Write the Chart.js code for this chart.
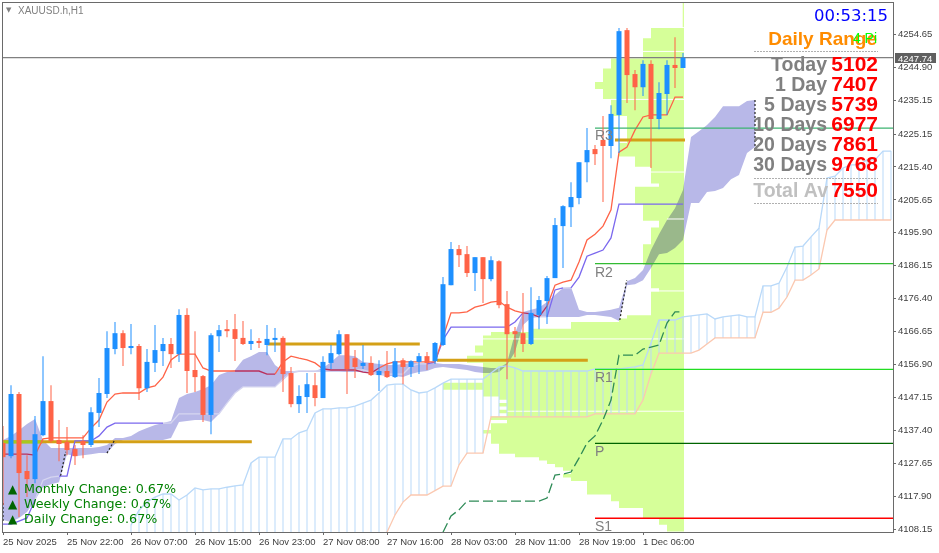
<!DOCTYPE html>
<html>
<head>
<meta charset="utf-8">
<title>XAUUSD.h,H1</title>
<script src="https://cdn.jsdelivr.net/npm/chart.js@4/dist/chart.umd.min.js"></script>
<style>
html, body { margin: 0; padding: 0; background: #fff; }
canvas { display: block; }
</style>
</head>
<body>
<canvas id="chart" width="939" height="553"></canvas>
<script>
const opens = [4133.7,4129.8,4148.2,4125.4,4123.0,4136.0,4146.1,4134.6,4134.0,4131.9,4134.3,4133.1,4142.6,4148.2,4161.5,4166.2,4161.8,4162.4,4149.9,4157.4,4160.9,4163.0,4160.0,4171.6,4155.3,4153.5,4142.0,4165.3,4167.4,4167.4,4164.8,4163.0,4163.9,4162.7,4164.2,4164.8,4154.4,4145.2,4147.3,4150.8,4147.0,4157.4,4160.0,4165.9,4158.8,4156.5,4157.4,4153.8,4155.0,4153.2,4158.2,4156.2,4157.7,4159.4,4157.9,4162.7,4180.4,4191.1,4189.6,4184.0,4188.7,4182.2,4187.5,4174.8,4166.8,4166.2,4163.0,4171.6,4175.7,4182.5,4197.9,4203.5,4206.2,4216.8,4220.7,4223.4,4221.6,4230.8,4255.9,4242.9,4239.0,4245.9,4229.6,4237.0,4245.6,4244.7];
const highs = [4138.7,4150.8,4148.8,4130.1,4141.7,4159.4,4150.8,4140.5,4138.4,4133.1,4136.0,4144.3,4152.9,4166.8,4169.5,4167.1,4168.9,4163.0,4161.5,4168.6,4164.8,4164.8,4173.3,4173.6,4166.8,4153.8,4166.2,4168.6,4170.1,4171.9,4169.8,4167.4,4164.8,4168.6,4167.7,4165.3,4156.2,4150.8,4154.4,4154.4,4159.4,4162.7,4167.1,4165.9,4161.2,4162.7,4159.4,4158.2,4160.9,4161.8,4158.8,4158.2,4160.3,4160.6,4163.6,4182.8,4193.2,4192.3,4192.0,4188.7,4188.7,4189.0,4187.8,4178.7,4168.0,4178.1,4179.8,4177.2,4183.1,4200.3,4204.1,4210.9,4216.8,4226.9,4221.9,4230.5,4233.7,4256.5,4256.5,4244.1,4247.0,4247.0,4240.5,4247.0,4253.8,4249.1];
const lows = [4115.3,4129.2,4111.8,4117.7,4121.8,4135.7,4133.7,4128.3,4130.1,4127.2,4129.2,4132.5,4138.4,4147.0,4160.0,4156.5,4160.0,4146.4,4148.8,4154.7,4156.5,4155.9,4157.7,4148.5,4148.8,4139.9,4136.3,4160.6,4165.0,4158.0,4162.7,4161.2,4161.8,4159.7,4160.6,4148.8,4144.3,4142.6,4142.6,4144.6,4147.0,4155.6,4159.7,4148.2,4152.9,4155.6,4153.5,4149.1,4152.9,4152.9,4151.1,4153.2,4154.1,4155.3,4157.1,4162.4,4180.4,4185.8,4182.8,4178.7,4175.1,4181.6,4173.6,4152.6,4159.1,4160.6,4162.7,4167.4,4168.9,4182.5,4185.5,4197.6,4204.4,4210.9,4216.0,4205.0,4218.0,4219.5,4234.3,4232.2,4236.4,4215.1,4226.6,4230.8,4238.8,4244.7];
const closes = [4129.5,4148.2,4124.8,4123.0,4136.3,4146.1,4134.3,4133.4,4131.6,4129.8,4133.1,4142.8,4148.5,4161.8,4166.2,4161.8,4162.4,4149.9,4157.7,4161.2,4163.0,4160.0,4171.6,4155.0,4153.2,4142.0,4165.6,4167.1,4166.8,4164.5,4163.0,4163.9,4163.3,4164.5,4164.8,4154.1,4145.2,4147.6,4151.1,4147.0,4157.7,4160.3,4165.9,4155.6,4156.2,4157.4,4153.8,4155.0,4153.2,4157.9,4156.2,4157.9,4159.4,4157.4,4163.3,4180.7,4191.1,4189.3,4184.0,4188.7,4182.2,4187.8,4174.5,4165.9,4165.9,4163.0,4172.2,4176.0,4182.5,4198.2,4203.8,4206.5,4216.8,4220.4,4219.2,4221.6,4231.1,4255.6,4242.6,4239.0,4245.9,4229.6,4237.3,4245.6,4244.7,4247.74];

const tenkan = [4130.4,4130.4,4130.4,4130.4,4130.1,4134.9,4135.2,4135.2,4135.2,4135.2,4135.2,4138.1,4140.5,4145.8,4148.2,4148.5,4148.5,4148.5,4150.0,4150.6,4153.2,4158.3,4160.0,4160.0,4160.0,4155.9,4155.0,4155.0,4155.0,4155.0,4155.0,4155.0,4155.0,4154.1,4154.1,4157.7,4159.4,4158.8,4158.3,4157.4,4155.6,4155.3,4155.3,4155.3,4155.3,4154.7,4154.4,4155.9,4157.1,4157.7,4157.7,4157.7,4157.7,4157.7,4157.7,4165.0,4172.2,4172.2,4172.5,4173.9,4174.5,4175.4,4175.7,4173.9,4172.8,4172.2,4171.9,4171.0,4174.2,4180.4,4181.3,4181.9,4187.3,4193.8,4195.5,4197.9,4202.7,4219.8,4221.3,4226.3,4230.2,4230.8,4230.8,4230.8,4236.1,4236.1];
const kijun = [4109.7,4109.7,4110.6,4111.5,4116.8,4122.7,4123.6,4123.9,4123.9,4134.3,4134.3,4134.3,4135.8,4138.4,4139.6,4139.6,4139.6,4139.6,4139.6,4139.6,4139.6,4139.6,4142.3,4142.3,4142.3,4142.3,4142.3,4142.3,4145.5,4148.5,4150.3,4150.3,4150.3,4150.3,4150.3,4152.6,4154.7,4155.0,4155.0,4155.0,4155.0,4155.0,4155.0,4155.3,4155.3,4155.3,4154.7,4154.1,4154.1,4154.1,4154.1,4156.5,4157.1,4157.1,4157.7,4164.2,4168.0,4168.0,4168.0,4168.0,4168.0,4168.0,4168.0,4168.0,4169.5,4172.2,4171.9,4171.0,4171.0,4179.0,4179.6,4179.6,4182.8,4189.0,4189.9,4190.8,4194.4,4204.4,4204.4,4204.4,4204.4,4204.4,4204.4,4204.4,4204.4,4204.4];
const cloudUpper = [4134.6,4135.8,4137.5,4139.3,4140.8,4134.6,4132.2,4132.2,4132.2,4132.2,4132.2,4132.2,4132.5,4133.1,4135.2,4135.2,4135.8,4137.2,4138.1,4139.0,4139.6,4140.2,4147.0,4148.2,4148.8,4149.7,4150.8,4153.8,4154.7,4155.3,4158.3,4159.4,4160.6,4160.6,4156.8,4155.0,4155.0,4155.0,4155.0,4155.0,4155.9,4157.7,4159.7,4159.7,4159.4,4157.7,4157.4,4157.1,4156.8,4156.8,4157.1,4157.4,4157.4,4157.4,4157.4,4157.1,4157.1,4157.1,4156.8,4156.5,4156.2,4155.9,4155.9,4157.4,4166.2,4172.5,4173.1,4173.7,4175.4,4177.5,4179.6,4179.9,4173.1,4172.5,4172.5,4172.8,4173.1,4173.7,4181.6,4182.5,4184.9,4190.8,4195.5,4199.7,4203.2,4208.6,4224.3,4226.0,4227.8,4230.2,4233.4,4233.4,4233.4,4234.9,4235.2];
const cloudLower = [4110.9,4110.3,4111.5,4113.3,4116.8,4120.6,4121.5,4122.1,4130.4,4129.8,4130.1,4130.4,4130.7,4130.7,4133.4,4134.6,4134.6,4134.6,4134.6,4134.6,4134.6,4135.2,4139.9,4140.2,4140.5,4140.5,4139.9,4142.3,4145.5,4148.5,4150.3,4150.3,4150.3,4150.3,4150.3,4152.3,4154.4,4154.7,4154.7,4154.7,4154.7,4154.7,4154.7,4154.7,4154.7,4154.7,4154.1,4153.8,4153.5,4153.5,4153.2,4154.1,4154.7,4155.0,4155.9,4156.2,4155.9,4155.6,4155.3,4154.7,4154.4,4154.4,4154.7,4156.8,4160.6,4168.6,4170.7,4171.0,4171.0,4171.0,4171.0,4171.0,4171.0,4171.6,4171.6,4171.3,4171.0,4169.8,4180.4,4180.7,4181.9,4185.5,4189.6,4189.9,4191.4,4193.8,4204.7,4204.7,4208.0,4208.3,4209.2,4211.8,4213.0,4219.5,4221.3];

// second cloud, hatched, starts at bar 16
const hatchStart = 16;
const hatchTop = [4109.4,4113.8,4116.2,4117.7,4118.6,4118.6,4116.8,4118.3,4120.4,4119.8,4120.1,4120.1,4120.6,4121.0,4121.3,4127.8,4129.5,4129.5,4129.5,4134.9,4134.9,4136.7,4137.5,4142.6,4143.8,4143.8,4144.1,4144.1,4144.6,4145.5,4146.4,4148.5,4150.8,4151.1,4151.1,4149.4,4148.5,4148.8,4150.0,4151.4,4152.6,4152.6,4152.6,4152.6,4152.6,4154.4,4156.2,4156.5,4155.9,4155.0,4155.0,4155.0,4155.0,4155.0,4155.0,4155.0,4155.0,4155.0,4155.6,4155.6,4155.6,4155.6,4155.9,4156.2,4156.8,4163.3,4170.1,4170.1,4170.1,4171.0,4171.3,4171.6,4171.9,4170.4,4171.0,4171.3,4171.6,4171.0,4171.0,4180.2,4180.2,4181.0,4185.8,4191.7,4192.0,4194.7,4197.3,4212.1,4212.7,4215.1,4216.0,4216.0,4217.5,4217.5,4220.1,4220.1];
const hatchBottom = [4105,4105,4105,4105,4105,4105,4105,4105,4105,4105,4105,4105,4105,4105,4105,4105,4105,4105,4105,4105,4105,4105,4105,4105,4105,4105,4105,4105,4105,4105,4105,4106.5,4107.3,4112.4,4116.2,4118.3,4118.3,4118.3,4119.6,4120.9,4120.9,4127.2,4130.7,4130.7,4130.7,4141.4,4141.4,4141.4,4141.4,4141.4,4141.4,4141.4,4141.4,4141.4,4141.4,4141.4,4141.4,4141.4,4142.3,4142.3,4142.3,4142.3,4142.3,4142.3,4146.4,4154.1,4160.3,4160.3,4160.3,4160.3,4160.3,4161.2,4163.0,4164.8,4164.8,4164.8,4164.8,4164.8,4164.8,4172.4,4172.4,4173.6,4176.9,4181.9,4181.9,4183.4,4185.2,4196.7,4199.7,4199.7,4199.7,4199.7,4199.7,4199.7,4199.7,4199.7];

const chikouStart = 55;
const chikou = [4107.3,4112.1,4113.9,4116.5,4116.5,4116.5,4116.5,4116.5,4116.5,4116.5,4116.5,4116.5,4116.5,4117.4,4124.2,4124.5,4125.1,4129.2,4133.7,4135.8,4140.5,4146.4,4159.7,4159.7,4159.7,4161.5,4162.1,4162.7,4169.2,4172.5,4172.5];

// volume profile: bars per one dollar row, first row at 4108
const profileFirstPrice = 4108;
const profileBars = [2,2,3,3,5,5,5,8,8,9,9,12,12,12,12,14,15,14,15,16,17,18,21,23,23,23,24,24,24,25,24,24,22,24,22,23,22,23,22,23,25,25,30,30,25,25,25,25,25,25,27,27,25,26,26,25,25,25,24,19,14,14,8,7,4,4,4,4,4,4,4,3,4,4,4,4,4,4,4,5,5,5,5,5,5,4,4,4,4,4,3,3,5,5,5,5,5,6,6,6,6,6,3,4,4,4,4,4,6,6,6,8,8,8,8,7,7,7,7,7,7,7,7,9,9,9,9,9,10,10,10,11,11,10,10,10,10,9,9,9,5,5,5,5,5,5,4,4,4];
const profileLastBar = 85;
const gapPrices = [4249.6,4235.4,4213.9,4200.0,4178.7,4164.5,4143.1];
const gapBars = [5,9,4,2,4,25,22];

const rangePrices = [4134.1,4163.0,4158.2,4223.4];
const rangeStarts = [0,33.1,54.25,76.5];
const rangeEnds = [31.1,52.1,73.1,85.25];

const pivotNames = ['R3','R2','R1','P','S1'];
const pivotValues = [4226.9,4186.8,4155.5,4133.6,4111.4];
const pivotColors = ['#3cb371','#33bb33','#22dd22','#006400','#ff0000'];
const pivotStart = 74;

const darkX = [0,0,null,7.2,7.83,null,13,13.9,null,77.1,77.96,null,94,94];
const darkY = [4115.9,4110,null,4124,4131.1,null,4130.7,4134.3,null,4170.1,4181.9,null,4235.2,4220.4];

const lastPrice = 4247.74;

const priceTicks = [4108.15,4117.90,4127.65,4137.40,4147.15,4156.90,4166.65,4176.40,4186.15,4195.90,4205.65,4215.40,4225.15,4235.15,4244.90,4254.65];
const timeTickBars = [0,8,16,24,32,40,48,56,64,72,80];
const timeLabels = ['25 Nov 2025','25 Nov 22:00','26 Nov 07:00','26 Nov 15:00','26 Nov 23:00','27 Nov 08:00','27 Nov 16:00','28 Nov 03:00','28 Nov 11:00','28 Nov 19:00','1 Dec 06:00'];

const rangeNames = ['Today','1 Day','5 Days','10 Days','20 Days','30 Days'];
const rangeValues = ['5102','7407','5739','6977','7861','9768'];
const changeNames = ['Monthly Change: 0.67%','Weekly Change: 0.67%','Daily Change: 0.67%'];

const UP = '#1e90ff', DOWN = '#ff6347', CLOUD = '#b8b8e8', GREEN = '#d6ff99';

const series = (vals, start = 0) => vals.map((v, i) => ({ x: i + start, y: v }));
const line = (data, color, width, order, extra) => Object.assign({
    type: 'line', data, borderColor: color, borderWidth: width, order, pointRadius: 0, fill: false, tension: 0
}, extra);
const bar = (data, color, thickness, order) => ({
    type: 'bar', data, backgroundColor: color, barThickness: thickness, grouped: false, inflateAmount: 0, order
});
const inCloud = (vals, i) => i < cloudUpper.length && vals[i] <= cloudUpper[i] && vals[i] >= cloudLower[i];

// rows and levels are one long line broken with null points
const profileRows = [];
profileBars.forEach((n, k) => {
    profileRows.push({ x: profileLastBar - n, y: profileFirstPrice + k }, { x: profileLastBar + 0.125, y: profileFirstPrice + k }, { x: null, y: null });
});
const gapRows = [];
gapPrices.forEach((p, k) => {
    gapRows.push({ x: profileLastBar - gapBars[k], y: p }, { x: profileLastBar + 0.125, y: p }, { x: null, y: null });
});
const rangeRows = [];
rangePrices.forEach((p, k) => {
    rangeRows.push({ x: rangeStarts[k], y: p }, { x: rangeEnds[k], y: p }, { x: null, y: null });
});
const candleColors = closes.map((c, i) => (c >= opens[i] ? UP : DOWN));

const blend = {
    id: 'blend',
    beforeDatasetDraw(chart, args) {
        const ds = chart.data.datasets[args.index];
        if (ds.blend) chart.ctx.globalCompositeOperation = ds.blend;
    },
    afterDatasetDraw(chart) {
        chart.ctx.globalCompositeOperation = 'source-over';
    }
};

const overlay = {
    id: 'overlay',
    afterDraw(chart) {
        const { ctx, chartArea: a, scales: { y } } = chart;
        const text = (s, px, py, font, color, align = 'left') => {
            ctx.font = font;
            ctx.fillStyle = color;
            ctx.textAlign = align;
            ctx.textBaseline = 'alphabetic';
            ctx.fillText(s, px, py);
        };
        ctx.save();
        ctx.strokeStyle = '#6a6a6a';
        ctx.lineWidth = 1;
        ctx.strokeRect(a.left + 0.5, a.top + 0.5, a.right - a.left, a.bottom - a.top);

        // pivots
        pivotNames.forEach((n, k) => {
            text(n, 595, y.getPixelForValue(pivotValues[k]) + (k == 0 ? 12 : 13), '14px "Liberation Sans"', '#808080');
        });

        // last price tag
        const py = Math.round(y.getPixelForValue(lastPrice));
        ctx.fillStyle = '#606060';
        ctx.fillRect(895, py - 5, 41, 10);
        text(lastPrice.toFixed(2), 898, py + 3.5, '9.5px "Liberation Sans"', '#ffffff');

        // title
        text('\u25BC', 6, 12, '7px "DejaVu Sans"', '#808080');
        text('XAUUSD.h,H1', 18, 14, '10px "Liberation Sans"', '#808080');

        // daily range panel
        text('00:53:15', 888, 21, '16.5px "DejaVu Sans"', '#0000ff', 'right');
        text('Daily Range', 877, 45, 'bold 19px "Liberation Sans"', '#ff8c00', 'right');
        text('4 Pi', 877, 43, '14px "Liberation Sans"', '#00ff00', 'right');
        rangeNames.forEach((n, k) => {
            const by = 71 + 20 * k;
            text(n, 827, by, 'bold 19.5px "Liberation Sans"', '#808080', 'right');
            text(rangeValues[k], 878, by, 'bold 21px "Liberation Sans"', '#ff0000', 'right');
        });
        text('Total Av', 828, 197, 'bold 19.5px "Liberation Sans"', '#c0c0c0', 'right');
        text('7550', 878, 197, 'bold 21px "Liberation Sans"', '#ff0000', 'right');
        ctx.strokeStyle = '#b0b0b0';
        ctx.setLineDash([2, 1]);
        [51.5, 178.5, 203.5].forEach(ly => {
            ctx.beginPath();
            ctx.moveTo(754, ly);
            ctx.lineTo(878, ly);
            ctx.stroke();
        });
        ctx.setLineDash([]);

        // change labels
        changeNames.forEach((n, k) => {
            const by = 493 + 15 * k;
            text('\u25B2', 8, by, '12px "DejaVu Sans"', '#006400');
            text(n, 24, by, '12.7px "DejaVu Sans"', '#008000');
        });
        ctx.restore();
    }
};

new Chart(document.getElementById('chart'), {
    type: 'line',
    data: {
        datasets: [
            // cloud first, so that its fill can name the dataset below it
            line(series(cloudUpper), CLOUD, 0, 90, { fill: { target: 1, above: CLOUD, below: CLOUD } }),
            line(series(cloudLower), CLOUD, 0, 91),
            line(profileRows, GREEN, 3.5, 100, { blend: 'multiply' }),
            line(gapRows, '#ffffff', 1, 99),
            line([{ x: profileLastBar + 0.05, y: 4264.2 }, { x: profileLastBar + 0.05, y: 4256.8 }], GREEN, 1, 98),
            bar(hatchTop.map((v, i) => ({ x: i + hatchStart, y: [hatchBottom[i], v] })), '#b9d9f9', 1, 80),
            line(series(hatchBottom, hatchStart), '#fbc8b0', 1.3, 79),
            line(series(hatchTop, hatchStart), '#b9d9f9', 1.3, 78),
            line(rangeRows, '#d4a017', 3, 70),
            line([{ x: 0, y: 4134 }, { x: 4.9, y: 4134 }], '#a6c91e', 3, 69),
            line(series(kijun), '#7b68ee', 1.3, 60, {
                segment: { borderColor: c => (inCloud(kijun, c.p0DataIndex) && inCloud(kijun, c.p1DataIndex) ? '#d5d5f0' : undefined) }
            }),
            line(series(tenkan), DOWN, 1.3, 59, {
                segment: { borderColor: c => (inCloud(tenkan, c.p0DataIndex) && inCloud(tenkan, c.p1DataIndex) ? '#b9305c' : undefined) }
            }),
            line(series(chikou, chikouStart), '#2e8b57', 1.3, 58, { borderDash: [10, 4] }),
            line(darkX.map((x, i) => ({ x, y: darkY[i] })), '#222222', 1.2, 57, { borderDash: [2, 2] }),
            ...pivotValues.map((p, k) => line([{ x: pivotStart, y: p }, { x: 111.25, y: p }], pivotColors[k], k == 4 ? 1.5 : 1.2, 50)),
            line([{ x: -0.125, y: lastPrice }, { x: 111.25, y: lastPrice }], '#808080', 1.2, 49),
            bar(highs.map((h, i) => ({ x: i, y: [lows[i], h] })), candleColors, 1, 11),
            bar(opens.map((o, i) => ({ x: i, y: [Math.min(o, closes[i]), Math.max(o, closes[i])] })), candleColors, 5, 10)
        ]
    },
    options: {
        responsive: false,
        animation: false,
        devicePixelRatio: 1,
        events: [],
        layout: { padding: { left: 2, top: 2, right: 0, bottom: 0 } },
        plugins: {
            legend: { display: false },
            tooltip: { enabled: false },
            filler: { drawTime: 'beforeDatasetsDraw' }
        },
        scales: {
            x: {
                type: 'linear', min: -0.125, max: 111.25, offset: false,
                grid: { offset: false, drawOnChartArea: false, color: '#6a6a6a', tickLength: 3 },
                border: { display: false },
                afterBuildTicks: scale => { scale.ticks = timeTickBars.map(value => ({ value })); },
                afterFit: scale => { scale.height = 21; scale.paddingLeft = 0; scale.paddingRight = 0; },
                ticks: {
                    autoSkip: false, maxRotation: 0, align: 'start', padding: 2, color: '#404040',
                    font: { family: '"Liberation Sans"', size: 9.5 },
                    callback: v => timeLabels[timeTickBars.indexOf(v)]
                }
            },
            y: {
                type: 'linear', position: 'right', min: 4107.35, max: 4264.23,
                grid: { drawOnChartArea: false, color: '#6a6a6a', tickLength: 3 },
                border: { display: false },
                afterBuildTicks: scale => { scale.ticks = priceTicks.map(value => ({ value })); },
                afterFit: scale => { scale.width = 46; scale.paddingTop = 0; scale.paddingBottom = 0; },
                ticks: {
                    autoSkip: false, padding: 2, color: '#404040',
                    font: { family: '"Liberation Sans"', size: 9.5 },
                    callback: v => v.toFixed(2)
                }
            }
        }
    },
    plugins: [blend, overlay]
});
</script>
</body>
</html>
